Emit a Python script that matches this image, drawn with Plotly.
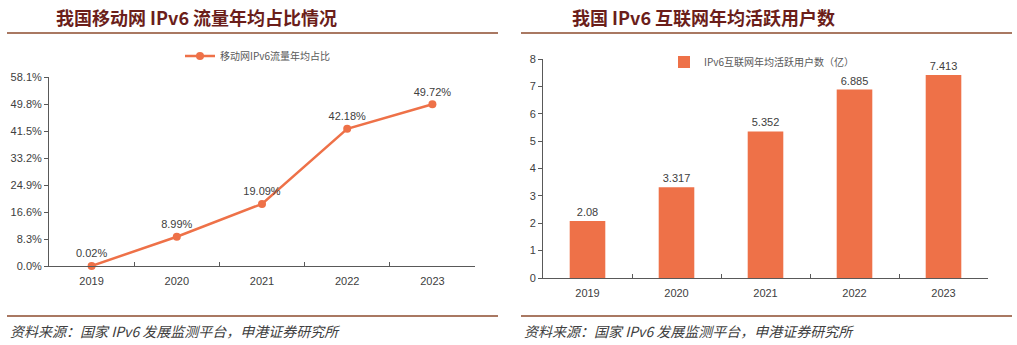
import plotly.graph_objects as go

years = ["2019", "2020", "2021", "2022", "2023"]
traffic_share = [0.02, 8.99, 19.09, 42.18, 49.72]
active_users = [2.08, 3.317, 5.352, 6.885, 7.413]
left_yticks = [0.0, 8.3, 16.6, 24.9, 33.2, 41.5, 49.8, 58.1]

line_name = "移动网IPv6流量年均占比"
bar_name = "IPv6互联网年均活跃用户数（亿）"
left_title = "我国移动网 IPv6 流量年均占比情况"
right_title = "我国 IPv6 互联网年均活跃用户数"
source = "资料来源：国家 IPv6 发展监测平台，申港证券研究所"

ORANGE = "#EE7148"
BROWN = "#8C4B2E"
TITLE_C = "#6B1E1A"
TICKF = dict(family="Liberation Sans Narrow, Arial Narrow, Liberation Sans, Arial", size=11, color="#404040")
W, H = 1017, 345

def px(x):
    return x / W

def py(y):
    return 1 - y / H

fig = go.Figure()
fig.add_trace(go.Scatter(
    x=years, y=traffic_share, mode="lines+markers+text",
    text=[f"{v:.2f}%" for v in traffic_share], textposition="top center",
    textfont=TICKF, line=dict(color=ORANGE, width=2.5),
    marker=dict(color=ORANGE, size=8), name=line_name,
    xaxis="x", yaxis="y", legend="legend", cliponaxis=False,
))
fig.add_trace(go.Bar(
    x=years, y=active_users, text=[str(v) for v in active_users],
    textposition="outside", textfont=TICKF, marker=dict(color=ORANGE, line=dict(width=0)),
    width=0.4, name=bar_name, xaxis="x2", yaxis="y2", legend="legend2", cliponaxis=False,
))

axis_common = dict(showgrid=False, zeroline=False, showline=True, linecolor="#595959",
                   linewidth=1, tickfont=TICKF, fixedrange=True, automargin=False)

fig.update_layout(
    template="none",
    width=W, height=H, margin=dict(l=0, r=0, t=0, b=0, autoexpand=False),
    paper_bgcolor="white", plot_bgcolor="white",
    font=dict(family="Noto Sans CJK SC", color="#404040"),
    xaxis=dict(domain=[px(49), px(475)], anchor="y", type="category", range=[-0.5, 4.5],
               ticks="inside", ticklen=4, tickson="boundaries", tickcolor="#595959",
               ticklabelstandoff=5, **axis_common),
    yaxis=dict(domain=[py(266), py(77)], anchor="x", range=[0, 58.1],
               tickvals=left_yticks, ticktext=[f"{v:.1f}%" for v in left_yticks],
               ticks="outside", ticklen=4, tickcolor="#595959", **axis_common),
    xaxis2=dict(domain=[px(543), px(988)], anchor="y2", type="category", range=[-0.5, 4.5],
                ticks="inside", ticklen=4, tickson="boundaries", tickcolor="#595959",
                ticklabelstandoff=5, **axis_common),
    yaxis2=dict(domain=[py(278), py(59)], anchor="x2", range=[0, 8], dtick=1,
                ticks="outside", ticklen=4, tickcolor="#595959", **axis_common),
    showlegend=True,
    legend=dict(x=px(180), y=py(56), xanchor="left", yanchor="middle", orientation="h",
                font=dict(family="Noto Sans CJK SC", size=10, color="#595959"),
                bgcolor="rgba(0,0,0,0)", itemwidth=30),
    legend2=dict(x=px(664), y=py(62), xanchor="left", yanchor="middle", orientation="h",
                 font=dict(family="Noto Sans CJK SC", size=10, color="#595959"),
                 bgcolor="rgba(0,0,0,0)", itemwidth=30),
)

# titles
for txt, x in [(left_title, 54), (right_title, 570)]:
    fig.add_annotation(text=f"<b>{txt}</b>", x=px(x), y=py(17), xref="paper", yref="paper",
                       xanchor="left", yanchor="middle", showarrow=False,
                       font=dict(family="Noto Sans CJK SC", size=18, color=TITLE_C))
# source notes
for x in [8, 522]:
    fig.add_annotation(text=source, x=px(x), y=py(331), xref="paper", yref="paper",
                       xanchor="left", yanchor="middle", showarrow=False,
                       font=dict(family="Noto Sans CJK SC", size=14, color="#404040", style="italic"))
# separator lines
for x0, x1 in [(7, 498), (521, 1012)]:
    for y in [33, 316]:
        fig.add_shape(type="line", x0=px(x0), x1=px(x1), y0=py(y), y1=py(y),
                      xref="paper", yref="paper", line=dict(color=BROWN, width=1.5))

fig.write_html("out.html")
